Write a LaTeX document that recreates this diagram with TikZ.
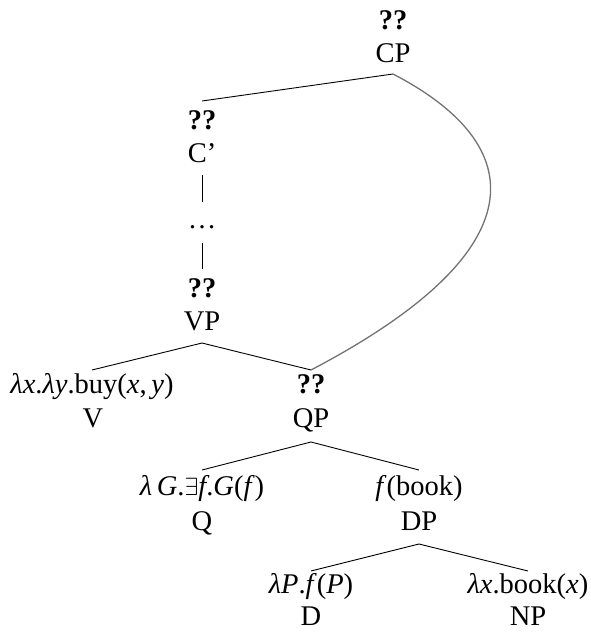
\documentclass[tikz,border=0pt]{standalone}
\usepackage{fontspec}
\setmainfont{Liberation Serif}
\begin{document}
\begin{tikzpicture}[x=1pt,y=-1pt,
  lab/.style={anchor=base,inner sep=0pt,font=\fontsize{28.5}{34}\selectfont},
  edge/.style={line width=0.9pt,black},
  move/.style={line width=1.3pt,color={rgb,255:red,115;green,115;blue,115}}]
\useasboundingbox (0,0) rectangle (591,632);
% CP
\node[lab] (cpq) at (393,29) {\textbf{??}};
\node[lab] (cp) at (393,62) {CP};
% C'
\node[lab] (cbq) at (202,129) {\textbf{??}};
\node[lab] (cbar) at (202,162) {C’};
\node[lab] (dots) at (202,228) {\ldots};
% VP
\node[lab] (vpq) at (202,297) {\textbf{??}};
\node[lab] (vp) at (202,330) {VP};
% V and QP
\node[lab] (vlam) at (92,393) {\textit{λx}.\textit{λy}.buy(\textit{x},\,\textit{y})};
\node[lab] (v) at (93,427) {V};
\node[lab] (qpq) at (311,393) {\textbf{??}};
\node[lab] (qp) at (311,427) {QP};
% Q and DP
\node[lab] (qlam) at (202,495) {\textit{λ\,G}.$\exists$\textit{f}.\textit{G}(\textit{f})};
\node[lab] (q) at (202,530) {Q};
\node[lab] (dpf) at (419,495) {\textit{f}(book)};
\node[lab] (dp) at (419,530) {DP};
% D and NP
\node[lab] (dlam) at (311,593) {\textit{λP}.\textit{f}(\textit{P})};
\node[lab] (d) at (311,625) {D};
\node[lab] (nplam) at (528,593) {\textit{λx}.book(\textit{x})};
\node[lab] (np) at (528,625) {NP};
% edges
\draw[edge] ([yshift=-12pt]cp.base) -- ([yshift=28pt]cbq.base);
\draw[edge] ([yshift=-13pt]cbar.base) -- ([yshift=26pt]dots.base);
\draw[edge] ([yshift=-15pt]dots.base) -- ([yshift=28pt]vpq.base);
\draw[edge] ([yshift=23pt]vlam.base) -- ([yshift=-13pt]vp.base) -- ([yshift=23pt]qpq.base);
\draw[edge] ([yshift=25pt]qlam.base) -- ([yshift=-15pt]qp.base) -- ([yshift=25pt]dpf.base);
\draw[edge] ([yshift=22pt]dlam.base) -- ([yshift=-14pt]dp.base) -- ([yshift=22pt]nplam.base);
\draw[move] ([yshift=-12pt]cp.base) .. controls (530,145) and (540,250) .. ([yshift=23pt]qpq.base);
\end{tikzpicture}
\end{document}
